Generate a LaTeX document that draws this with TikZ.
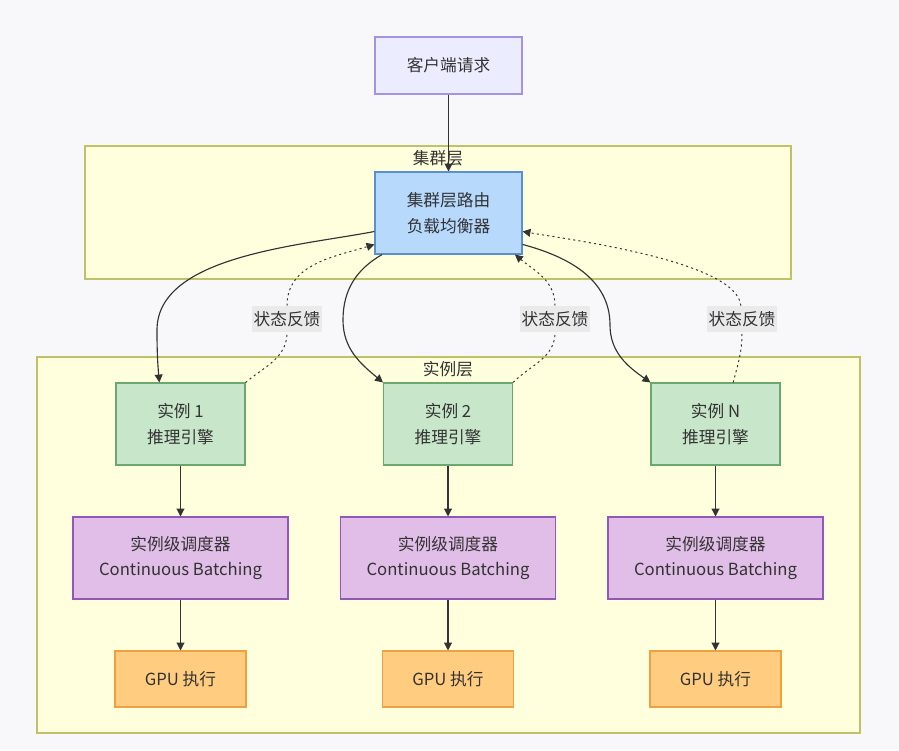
\documentclass[tikz,border=0pt]{standalone}
\usepackage{fontspec}
\newfontfamily\cjk{Noto Sans CJK SC}
\usepackage{xcolor}
\usepackage{tikz}
\usetikzlibrary{
    arrows.meta
}

\definecolor{pagebg}{HTML}{F8F8FA}
\definecolor{ink}{HTML}{333333}
\definecolor{layerfill}{HTML}{FFFFDE}
\definecolor{layerline}{HTML}{BFC266}
\definecolor{reqfill}{HTML}{ECECFF}
\definecolor{reqline}{HTML}{A393E0}
\definecolor{routefill}{HTML}{B6D9FC}
\definecolor{routeline}{HTML}{5A8FD0}
\definecolor{instfill}{HTML}{C8E6C9}
\definecolor{instline}{HTML}{6AA86E}
\definecolor{schedfill}{HTML}{E1BEE7}
\definecolor{schedline}{HTML}{9457B5}
\definecolor{gpufill}{HTML}{FFCC80}
\definecolor{gpuline}{HTML}{F0A040}
\definecolor{labelbg}{HTML}{EAEAEA}

\begin{document}
\begin{tikzpicture}[font=\cjk\fontsize{9.5}{14.6}\selectfont, text=ink,
    nbox/.style={draw, line width=0.6pt, align=center, inner sep=2pt, minimum height=1.64cm},
    reqbox/.style={nbox, fill=reqfill, draw=reqline, minimum width=2.94cm, minimum height=1.14cm},
    routebox/.style={nbox, fill=routefill, draw=routeline, minimum width=2.94cm},
    instbox/.style={nbox, fill=instfill, draw=instline, minimum width=2.58cm},
    schedbox/.style={nbox, fill=schedfill, draw=schedline, minimum width=4.30cm},
    gpubox/.style={nbox, fill=gpufill, draw=gpuline, minimum width=2.62cm, minimum height=1.12cm},
    layer/.style={draw=layerline, fill=layerfill, line width=0.6pt, inner sep=0pt},
    arr/.style={-{Triangle[length=4.5pt,width=4.5pt]}, draw=ink, line width=0.65pt},
    fbarr/.style={arr, line width=0.55pt, dash pattern=on 1.2pt off 1.8pt},
    fblab/.style={fill=labelbg, inner xsep=1pt, inner ysep=0pt, minimum height=0.52cm}]

    % Page
    \path[use as bounding box, fill=pagebg] (0,0) rectangle (17.98,-15.0);

    % Layers
    \node[layer, minimum width=14.12cm, minimum height=2.66cm] (clusterlayer) at (8.76,-4.25) {};
    \node (clusterlab) at (8.76,-3.16) {集群层};
    \node[layer, minimum width=16.46cm, minimum height=7.52cm] (instlayer) at (8.97,-10.90) {};
    \node (instlab) at (8.96,-7.38) {实例层};

    % Client and router
    \node[reqbox] (client) at (8.97,-1.31) {客户端请求};
    \node[routebox] (router) at (8.97,-4.26) {集群层路由\\负载均衡器};
    \draw[arr] (client) -- (router);

    % Instances
    \foreach \i/\xpos/\idx in {1/3.61/1, 2/8.96/2, 3/14.31/N}{
      \node[instbox] (inst\i) at (\xpos,-8.48) {实例 \idx\\推理引擎};
      \node[schedbox] (sched\i) at (\xpos,-11.16) {实例级调度器\\Continuous Batching};
      \node[gpubox] (gpu\i) at (\xpos,-13.58) {GPU 执行};
      \draw[arr] (inst\i) -- (sched\i);
      \draw[arr] (sched\i) -- (gpu\i);
    }

    % Dispatch
    \coordinate (bend1) at (3.14,-6.60);
    \coordinate (bend2) at (6.86,-6.40);
    \coordinate (bend3) at (12.20,-6.50);
    \draw[arr] (router.194) to[out=191,in=90,looseness=0.8] (bend1) to[out=-90,in=95] (inst1.117);
    \draw[arr] (router.212) to[out=210,in=90] (bend2) to[out=-90,in=140] (inst2.north west);
    \draw[arr] (router.337) to[out=-15,in=90] (bend3) to[out=-90,in=145] (inst3.north west);

    % Feedback
    \node[fblab] (fb1) at (5.74,-6.38) {状态反馈};
    \node[fblab] (fb2) at (11.10,-6.38) {状态反馈};
    \node[fblab] (fb3) at (14.84,-6.38) {状态反馈};
    \draw[fbarr] (inst1.north east) to[out=40,in=-90] (fb1) to[out=90,in=197] (router.203);
    \draw[fbarr] (inst2.north east) to[out=45,in=-90] (fb2) to[out=90,in=-40] (router.328);
    \draw[fbarr] (inst3.67) to[out=75,in=-90] (fb3) to[out=95,in=-10,looseness=0.5] (router.346);

  \end{tikzpicture}
\end{document}
